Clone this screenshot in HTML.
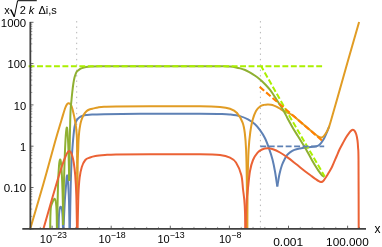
<!DOCTYPE html>
<html><head><meta charset="utf-8"><style>
html,body{margin:0;padding:0;background:#fff;}
body{width:382px;height:247px;overflow:hidden;position:relative;font-family:"Liberation Sans",sans-serif;}
svg{position:absolute;left:0;top:0;}
text{font-family:"Liberation Sans",sans-serif;fill:#000;}
</style></head><body>
<svg width="382" height="247" viewBox="0 0 382 247">
<defs><filter id="nf" x="0" y="0" width="382" height="247" filterUnits="userSpaceOnUse"><feOffset dx="0" dy="0"/></filter></defs>
<rect width="382" height="247" fill="#fff"/>
<g stroke="#b4b4b4" stroke-width="1" stroke-dasharray="1.4 4.0">
<line x1="76.7" y1="21.1" x2="76.7" y2="228"/>
<line x1="260.4" y1="21.1" x2="260.4" y2="228"/>
</g>
<path d="M58.60,229.00 C58.65,227.00 58.77,220.08 58.90,217.00 C59.03,213.92 59.22,212.07 59.40,210.50 C59.58,208.93 59.78,208.22 60.00,207.60 C60.22,206.98 60.45,206.77 60.70,206.80 C60.95,206.83 61.27,207.18 61.50,207.80 C61.73,208.42 61.92,208.97 62.10,210.50 C62.28,212.03 62.45,213.92 62.60,217.00 C62.75,220.08 62.93,227.00 63.00,229.00" fill="none" stroke="#5e81b5" stroke-width="2.0" stroke-linejoin="round" />
<path d="M63.50,229.00 C63.72,224.33 64.38,208.17 64.80,201.00 C65.22,193.83 65.70,189.83 66.00,186.00 C66.30,182.17 66.42,179.78 66.60,178.00 C66.78,176.22 66.92,175.30 67.10,175.30 C67.28,175.30 67.50,176.22 67.70,178.00 C67.90,179.78 68.08,182.17 68.30,186.00 C68.52,189.83 68.80,193.83 69.00,201.00 C69.20,208.17 69.42,224.33 69.50,229.00" fill="none" stroke="#5e81b5" stroke-width="2.0" stroke-linejoin="round" />
<path d="M69.90,229.00 C70.02,222.50 70.35,200.83 70.60,190.00 C70.85,179.17 71.20,169.53 71.40,164.00 C71.60,158.47 71.53,160.63 71.80,156.80 C72.07,152.97 72.58,145.72 73.00,141.00 C73.42,136.28 73.88,131.47 74.30,128.50 C74.72,125.53 75.07,124.60 75.50,123.20 C75.93,121.80 76.42,120.93 76.90,120.10 C77.38,119.27 77.85,118.75 78.40,118.20 C78.95,117.65 79.43,117.22 80.20,116.80 C80.97,116.38 82.02,115.98 83.00,115.70 C83.98,115.42 84.60,115.30 86.10,115.10 C87.60,114.90 89.02,114.65 92.00,114.50 C94.98,114.35 96.00,114.32 104.00,114.20 C112.00,114.08 124.00,113.87 140.00,113.80 C156.00,113.73 186.33,113.77 200.00,113.80 C213.67,113.83 217.00,113.88 222.00,114.00 C227.00,114.12 227.00,114.15 230.00,114.50 C233.00,114.85 237.00,115.28 240.00,116.10 C243.00,116.92 245.50,118.03 248.00,119.40 C250.50,120.77 253.00,122.50 255.00,124.30 C257.00,126.10 258.33,127.88 260.00,130.20 C261.67,132.52 263.50,135.18 265.00,138.20 C266.50,141.22 267.75,144.75 269.00,148.30 C270.25,151.85 271.50,155.63 272.50,159.50 C273.50,163.37 274.20,167.00 275.00,171.50 C275.80,176.00 276.92,184.00 277.30,186.50" fill="none" stroke="#5e81b5" stroke-width="2.0" stroke-linejoin="round" />
<path d="M277.30,186.50 C277.67,184.42 278.72,177.58 279.50,174.00 C280.28,170.42 281.08,167.58 282.00,165.00 C282.92,162.42 284.17,160.13 285.00,158.50 C285.83,156.87 286.17,156.22 287.00,155.20 C287.83,154.18 288.77,153.28 290.00,152.40 C291.23,151.52 292.73,150.57 294.40,149.90 C296.07,149.23 298.40,148.75 300.00,148.40 C301.60,148.05 302.58,148.00 304.00,147.80 C305.42,147.60 307.00,147.37 308.50,147.20 C310.00,147.03 311.67,146.95 313.00,146.80 C314.33,146.65 315.53,146.57 316.50,146.30 C317.47,146.03 318.08,145.70 318.80,145.20 C319.52,144.70 320.18,144.00 320.80,143.30 C321.42,142.60 321.93,141.85 322.50,141.00 C323.07,140.15 323.62,139.32 324.20,138.20 C324.78,137.08 325.43,135.60 326.00,134.30 C326.57,133.00 327.05,131.78 327.60,130.40 C328.15,129.02 329.02,126.73 329.30,126.00" fill="none" stroke="#5e81b5" stroke-width="2.0" stroke-linejoin="round" />
<path d="M30.20,229.00 C32.42,221.42 39.37,198.00 43.50,183.50 C47.63,169.00 52.00,152.58 55.00,142.00 C58.00,131.42 59.83,125.58 61.50,120.00 C63.17,114.42 64.08,111.12 65.00,108.50 C65.92,105.88 66.42,105.18 67.00,104.30 C67.58,103.42 68.03,103.32 68.50,103.20 C68.97,103.08 69.38,103.30 69.80,103.60 C70.22,103.90 70.58,104.18 71.00,105.00 C71.42,105.82 71.88,107.10 72.30,108.50 C72.72,109.90 73.08,111.57 73.50,113.40 C73.92,115.23 74.38,117.27 74.80,119.50 C75.22,121.73 75.68,124.38 76.00,126.80 C76.32,129.22 76.53,131.63 76.70,134.00 C76.87,136.37 76.92,135.83 77.00,141.00 C77.08,146.17 77.15,155.17 77.20,165.00 C77.25,174.83 77.28,194.17 77.30,200.00" fill="none" stroke="#e19c24" stroke-width="2.0" stroke-linejoin="round" />
<path d="M77.30,200.00 C77.35,194.17 77.45,173.33 77.60,165.00 C77.75,156.67 78.05,154.00 78.20,150.00 C78.35,146.00 78.33,144.00 78.50,141.00 C78.67,138.00 78.92,134.65 79.20,132.00 C79.48,129.35 79.85,127.02 80.20,125.10 C80.55,123.18 80.88,121.88 81.30,120.50 C81.72,119.12 82.15,117.98 82.70,116.80 C83.25,115.62 83.90,114.38 84.60,113.40 C85.30,112.42 86.00,111.58 86.90,110.90 C87.80,110.22 88.88,109.72 90.00,109.30 C91.12,108.88 92.27,108.72 93.60,108.40 C94.93,108.08 96.27,107.68 98.00,107.40 C99.73,107.12 101.00,106.87 104.00,106.70 C107.00,106.53 108.33,106.48 116.00,106.40 C123.67,106.32 136.00,106.23 150.00,106.20 C164.00,106.17 188.33,106.07 200.00,106.20 C211.67,106.33 215.00,106.57 220.00,107.00 C225.00,107.43 227.17,107.80 230.00,108.80 C232.83,109.80 234.90,110.70 237.00,113.00 C239.10,115.30 241.30,119.27 242.60,122.60 C243.90,125.93 244.22,128.43 244.80,133.00 C245.38,137.57 245.77,142.17 246.10,150.00 C246.43,157.83 246.63,166.83 246.80,180.00 C246.97,193.17 247.05,220.83 247.10,229.00" fill="none" stroke="#e19c24" stroke-width="2.0" stroke-linejoin="round" />
<path d="M247.30,229.00 C247.37,220.83 247.48,193.17 247.70,180.00 C247.92,166.83 248.17,158.00 248.60,150.00 C249.03,142.00 249.63,137.00 250.30,132.00 C250.97,127.00 251.65,123.50 252.60,120.00 C253.55,116.50 254.77,113.25 256.00,111.00 C257.23,108.75 258.67,107.52 260.00,106.50 C261.33,105.48 262.72,105.25 264.00,104.90 C265.28,104.55 266.53,104.43 267.70,104.40 C268.87,104.37 269.95,104.50 271.00,104.70 C272.05,104.90 272.93,105.20 274.00,105.60 C275.07,106.00 276.27,106.50 277.40,107.10 C278.53,107.70 279.53,108.45 280.80,109.20 C282.07,109.95 283.72,110.93 285.00,111.60 C286.28,112.27 287.28,112.63 288.50,113.20 C289.72,113.77 290.38,113.62 292.30,115.00 C294.22,116.38 297.05,118.98 300.00,121.50 C302.95,124.02 307.67,128.12 310.00,130.10 C312.33,132.08 312.92,132.55 314.00,133.40 C315.08,134.25 315.75,134.67 316.50,135.20 C317.25,135.73 317.78,136.22 318.50,136.60 C319.22,136.98 320.08,137.43 320.80,137.50 C321.52,137.57 322.10,137.50 322.80,137.00 C323.50,136.50 324.20,135.62 325.00,134.50 C325.80,133.38 326.88,131.72 327.60,130.30 C328.32,128.88 328.73,127.63 329.30,126.00 C329.87,124.37 329.63,125.22 331.00,120.50 C332.37,115.78 334.73,107.45 337.50,97.70 C340.27,87.95 344.00,74.62 347.60,62.00 C351.20,49.38 357.18,28.67 359.10,22.00" fill="none" stroke="#e19c24" stroke-width="2.0" stroke-linejoin="round" />
<path d="M50.20,229.00 C50.23,226.83 50.30,219.50 50.40,216.00 C50.50,212.50 50.60,209.92 50.80,208.00 C51.00,206.08 51.23,205.67 51.60,204.50 C51.97,203.33 52.52,201.97 53.00,201.00 C53.48,200.03 54.07,198.78 54.50,198.70 C54.93,198.62 55.30,199.28 55.60,200.50 C55.90,201.72 56.12,203.58 56.30,206.00 C56.48,208.42 56.60,211.17 56.70,215.00 C56.80,218.83 56.87,226.67 56.90,229.00" fill="none" stroke="#8fb032" stroke-width="2.0" stroke-linejoin="round" />
<path d="M57.10,229.00 C57.25,221.67 57.68,195.50 58.00,185.00 C58.32,174.50 58.65,170.25 59.00,166.00 C59.35,161.75 59.73,159.67 60.10,159.50 C60.47,159.33 60.85,161.25 61.20,165.00 C61.55,168.75 61.92,175.33 62.20,182.00 C62.48,188.67 62.75,197.83 62.90,205.00 C63.05,212.17 63.07,221.67 63.10,225.00" fill="none" stroke="#8fb032" stroke-width="2.0" stroke-linejoin="round" />
<path d="M63.10,225.00 C63.15,221.67 63.20,214.17 63.40,205.00 C63.60,195.83 63.95,180.83 64.30,170.00 C64.65,159.17 65.08,147.07 65.50,140.00 C65.92,132.93 66.42,128.27 66.80,127.60 C67.18,126.93 67.50,131.43 67.80,136.00 C68.10,140.57 68.37,147.50 68.60,155.00 C68.83,162.50 69.10,176.67 69.20,181.00" fill="none" stroke="#8fb032" stroke-width="2.0" stroke-linejoin="round" />
<path d="M69.20,181.00 C69.30,174.33 69.58,152.50 69.80,141.00 C70.02,129.50 70.22,118.83 70.50,112.00 C70.78,105.17 71.20,103.33 71.50,100.00 C71.80,96.67 72.00,94.67 72.30,92.00 C72.60,89.33 72.93,86.40 73.30,84.00 C73.67,81.60 74.10,79.30 74.50,77.60 C74.90,75.90 75.28,74.83 75.70,73.80 C76.12,72.77 76.37,72.15 77.00,71.40 C77.63,70.65 78.67,69.85 79.50,69.30 C80.33,68.75 80.92,68.47 82.00,68.10 C83.08,67.73 84.53,67.35 86.00,67.10 C87.47,66.85 88.47,66.73 90.80,66.60 C93.13,66.47 90.13,66.37 100.00,66.30 C109.87,66.23 130.83,66.22 150.00,66.20 C169.17,66.18 202.67,66.18 215.00,66.20 C227.33,66.22 221.50,66.23 224.00,66.30 C226.50,66.37 228.00,66.42 230.00,66.60 C232.00,66.78 234.28,67.10 236.00,67.40 C237.72,67.70 238.88,68.00 240.30,68.40 C241.72,68.80 243.08,69.23 244.50,69.80 C245.92,70.37 247.38,71.05 248.80,71.80 C250.22,72.55 251.58,73.40 253.00,74.30 C254.42,75.20 255.88,76.13 257.30,77.20 C258.72,78.27 260.08,79.40 261.50,80.70 C262.92,82.00 264.40,83.50 265.80,85.00 C267.20,86.50 268.65,88.12 269.90,89.70 C271.15,91.28 272.28,93.00 273.30,94.50 C274.32,96.00 275.17,97.42 276.00,98.70 C276.83,99.98 277.18,100.43 278.30,102.20 C279.42,103.97 281.25,106.80 282.70,109.30 C284.15,111.80 285.70,114.78 287.00,117.20 C288.30,119.62 289.50,121.97 290.50,123.80 C291.50,125.63 291.80,126.20 293.00,128.20 C294.20,130.20 296.12,133.25 297.70,135.80 C299.28,138.35 301.12,141.27 302.50,143.50 C303.88,145.73 304.42,146.42 306.00,149.20 C307.58,151.98 310.17,156.98 312.00,160.20 C313.83,163.42 315.67,166.40 317.00,168.50 C318.33,170.60 319.13,171.63 320.00,172.80 C320.87,173.97 321.48,174.83 322.20,175.50 C322.92,176.17 323.95,176.58 324.30,176.80" fill="none" stroke="#8fb032" stroke-width="2.0" stroke-linejoin="round" />
<path d="M43.40,229.00 C44.50,225.17 47.73,213.83 50.00,206.00 C52.27,198.17 55.00,188.67 57.00,182.00 C59.00,175.33 60.58,170.25 62.00,166.00 C63.42,161.75 64.58,158.75 65.50,156.50 C66.42,154.25 66.87,153.42 67.50,152.50 C68.13,151.58 68.75,151.03 69.30,151.00 C69.85,150.97 70.30,151.47 70.80,152.30 C71.30,153.13 71.80,154.22 72.30,156.00 C72.80,157.78 73.32,159.83 73.80,163.00 C74.28,166.17 74.78,169.67 75.20,175.00 C75.62,180.33 76.00,186.00 76.30,195.00 C76.60,204.00 76.88,223.33 77.00,229.00" fill="none" stroke="#eb6235" stroke-width="2.0" stroke-linejoin="round" />
<path d="M77.60,229.00 C77.73,223.33 78.07,203.50 78.40,195.00 C78.73,186.50 79.03,182.67 79.60,178.00 C80.17,173.33 80.85,170.00 81.80,167.00 C82.75,164.00 83.93,161.58 85.30,160.00 C86.67,158.42 88.32,158.17 90.00,157.50 C91.68,156.83 92.90,156.42 95.40,156.00 C97.90,155.58 101.57,155.27 105.00,155.00 C108.43,154.73 108.50,154.53 116.00,154.40 C123.50,154.27 136.00,154.23 150.00,154.20 C164.00,154.17 188.33,154.07 200.00,154.20 C211.67,154.33 215.00,154.43 220.00,155.00 C225.00,155.57 227.33,156.35 230.00,157.60 C232.67,158.85 234.12,159.60 236.00,162.50 C237.88,165.40 240.13,170.58 241.30,175.00 C242.47,179.42 242.50,184.83 243.00,189.00 C243.50,193.17 243.97,196.17 244.30,200.00 C244.63,203.83 244.83,207.17 245.00,212.00 C245.17,216.83 245.25,226.17 245.30,229.00" fill="none" stroke="#eb6235" stroke-width="2.0" stroke-linejoin="round" />
<path d="M245.70,229.00 C245.75,226.17 245.83,216.83 246.00,212.00 C246.17,207.17 246.37,204.00 246.70,200.00 C247.03,196.00 247.45,192.83 248.00,188.00 C248.55,183.17 249.17,175.67 250.00,171.00 C250.83,166.33 251.73,163.07 253.00,160.00 C254.27,156.93 256.10,154.35 257.60,152.60 C259.10,150.85 260.32,150.22 262.00,149.50 C263.68,148.78 265.87,148.35 267.70,148.30 C269.53,148.25 270.95,148.50 273.00,149.20 C275.05,149.90 277.53,151.10 280.00,152.50 C282.47,153.90 285.13,155.68 287.80,157.60 C290.47,159.52 292.97,161.60 296.00,164.00 C299.03,166.40 303.33,169.93 306.00,172.00 C308.67,174.07 310.33,175.18 312.00,176.40 C313.67,177.62 314.87,178.52 316.00,179.30 C317.13,180.08 317.98,180.67 318.80,181.10 C319.62,181.53 320.27,181.83 320.90,181.90 C321.53,181.97 322.08,181.78 322.60,181.50 C323.12,181.22 323.43,180.92 324.00,180.20 C324.57,179.48 325.32,178.28 326.00,177.20 C326.68,176.12 327.38,174.90 328.10,173.70 C328.82,172.50 329.58,171.28 330.30,170.00 C331.02,168.72 331.37,168.25 332.40,166.00 C333.43,163.75 335.32,159.25 336.50,156.50 C337.68,153.75 338.45,151.70 339.50,149.50 C340.55,147.30 341.72,145.30 342.80,143.30 C343.88,141.30 344.93,139.25 346.00,137.50 C347.07,135.75 348.33,133.95 349.20,132.80 C350.07,131.65 350.58,131.10 351.20,130.60 C351.82,130.10 352.33,129.77 352.90,129.80 C353.47,129.83 354.03,130.02 354.60,130.80 C355.17,131.58 355.82,132.88 356.30,134.50 C356.78,136.12 357.20,138.25 357.50,140.50 C357.80,142.75 357.93,144.75 358.10,148.00 C358.27,151.25 358.40,146.50 358.50,160.00 C358.60,173.50 358.67,217.50 358.70,229.00" fill="none" stroke="#eb6235" stroke-width="2.0" stroke-linejoin="round" />
<path d="M28.60,66.20 L322.10,66.20" fill="none" stroke="#aaf000" stroke-width="2.0" stroke-linejoin="round" stroke-dasharray="5.9 2.56" />
<path d="M261.10,66.10 L288.00,113.60 L324.70,176.40" fill="none" stroke="#aaf000" stroke-width="2.0" stroke-linejoin="round" stroke-dasharray="5.7 2.5" stroke-dashoffset="0.9"/>
<path d="M259.70,86.90 L323.00,141.30" fill="none" stroke="#ff8000" stroke-width="2.1" stroke-linejoin="round" stroke-dasharray="5.9 2.56" />
<path d="M260.30,146.40 L324.20,146.40" fill="none" stroke="#5e81b5" stroke-width="1.6" stroke-linejoin="round" stroke-dasharray="5.9 2.56" />
<line x1="30.35" y1="21.9" x2="30.35" y2="229.6" stroke="#404040" stroke-width="1.8"/>
<line x1="22.3" y1="228.8" x2="366" y2="228.8" stroke="#404040" stroke-width="1.8"/>
<line x1="30.5" y1="228.80" x2="33.5" y2="228.80" stroke="#404040" stroke-width="0.8"/>
<line x1="30.5" y1="216.37" x2="32.3" y2="216.37" stroke="#404040" stroke-width="0.5"/>
<line x1="30.5" y1="209.09" x2="32.3" y2="209.09" stroke="#404040" stroke-width="0.5"/>
<line x1="30.5" y1="203.93" x2="32.3" y2="203.93" stroke="#404040" stroke-width="0.5"/>
<line x1="30.5" y1="199.93" x2="32.3" y2="199.93" stroke="#404040" stroke-width="0.5"/>
<line x1="30.5" y1="196.66" x2="32.3" y2="196.66" stroke="#404040" stroke-width="0.5"/>
<line x1="30.5" y1="193.90" x2="32.3" y2="193.90" stroke="#404040" stroke-width="0.5"/>
<line x1="30.5" y1="191.50" x2="32.3" y2="191.50" stroke="#404040" stroke-width="0.5"/>
<line x1="30.5" y1="189.39" x2="32.3" y2="189.39" stroke="#404040" stroke-width="0.5"/>
<line x1="30.5" y1="187.50" x2="33.5" y2="187.50" stroke="#404040" stroke-width="0.8"/>
<line x1="30.5" y1="175.07" x2="32.3" y2="175.07" stroke="#404040" stroke-width="0.5"/>
<line x1="30.5" y1="167.79" x2="32.3" y2="167.79" stroke="#404040" stroke-width="0.5"/>
<line x1="30.5" y1="162.63" x2="32.3" y2="162.63" stroke="#404040" stroke-width="0.5"/>
<line x1="30.5" y1="158.63" x2="32.3" y2="158.63" stroke="#404040" stroke-width="0.5"/>
<line x1="30.5" y1="155.36" x2="32.3" y2="155.36" stroke="#404040" stroke-width="0.5"/>
<line x1="30.5" y1="152.60" x2="32.3" y2="152.60" stroke="#404040" stroke-width="0.5"/>
<line x1="30.5" y1="150.20" x2="32.3" y2="150.20" stroke="#404040" stroke-width="0.5"/>
<line x1="30.5" y1="148.09" x2="32.3" y2="148.09" stroke="#404040" stroke-width="0.5"/>
<line x1="30.5" y1="146.20" x2="33.5" y2="146.20" stroke="#404040" stroke-width="0.8"/>
<line x1="30.5" y1="133.77" x2="32.3" y2="133.77" stroke="#404040" stroke-width="0.5"/>
<line x1="30.5" y1="126.49" x2="32.3" y2="126.49" stroke="#404040" stroke-width="0.5"/>
<line x1="30.5" y1="121.33" x2="32.3" y2="121.33" stroke="#404040" stroke-width="0.5"/>
<line x1="30.5" y1="117.33" x2="32.3" y2="117.33" stroke="#404040" stroke-width="0.5"/>
<line x1="30.5" y1="114.06" x2="32.3" y2="114.06" stroke="#404040" stroke-width="0.5"/>
<line x1="30.5" y1="111.30" x2="32.3" y2="111.30" stroke="#404040" stroke-width="0.5"/>
<line x1="30.5" y1="108.90" x2="32.3" y2="108.90" stroke="#404040" stroke-width="0.5"/>
<line x1="30.5" y1="106.79" x2="32.3" y2="106.79" stroke="#404040" stroke-width="0.5"/>
<line x1="30.5" y1="104.90" x2="33.5" y2="104.90" stroke="#404040" stroke-width="0.8"/>
<line x1="30.5" y1="92.47" x2="32.3" y2="92.47" stroke="#404040" stroke-width="0.5"/>
<line x1="30.5" y1="85.19" x2="32.3" y2="85.19" stroke="#404040" stroke-width="0.5"/>
<line x1="30.5" y1="80.03" x2="32.3" y2="80.03" stroke="#404040" stroke-width="0.5"/>
<line x1="30.5" y1="76.03" x2="32.3" y2="76.03" stroke="#404040" stroke-width="0.5"/>
<line x1="30.5" y1="72.76" x2="32.3" y2="72.76" stroke="#404040" stroke-width="0.5"/>
<line x1="30.5" y1="70.00" x2="32.3" y2="70.00" stroke="#404040" stroke-width="0.5"/>
<line x1="30.5" y1="67.60" x2="32.3" y2="67.60" stroke="#404040" stroke-width="0.5"/>
<line x1="30.5" y1="65.49" x2="32.3" y2="65.49" stroke="#404040" stroke-width="0.5"/>
<line x1="30.5" y1="63.60" x2="33.5" y2="63.60" stroke="#404040" stroke-width="0.8"/>
<line x1="30.5" y1="51.17" x2="32.3" y2="51.17" stroke="#404040" stroke-width="0.5"/>
<line x1="30.5" y1="43.89" x2="32.3" y2="43.89" stroke="#404040" stroke-width="0.5"/>
<line x1="30.5" y1="38.73" x2="32.3" y2="38.73" stroke="#404040" stroke-width="0.5"/>
<line x1="30.5" y1="34.73" x2="32.3" y2="34.73" stroke="#404040" stroke-width="0.5"/>
<line x1="30.5" y1="31.46" x2="32.3" y2="31.46" stroke="#404040" stroke-width="0.5"/>
<line x1="30.5" y1="28.70" x2="32.3" y2="28.70" stroke="#404040" stroke-width="0.5"/>
<line x1="30.5" y1="26.30" x2="32.3" y2="26.30" stroke="#404040" stroke-width="0.5"/>
<line x1="30.5" y1="24.19" x2="32.3" y2="24.19" stroke="#404040" stroke-width="0.5"/>
<line x1="30.5" y1="22.30" x2="33.5" y2="22.30" stroke="#404040" stroke-width="0.8"/>
<line x1="40.28" y1="228.7" x2="40.28" y2="226.90" stroke="#404040" stroke-width="0.5"/>
<line x1="52.10" y1="228.7" x2="52.10" y2="225.70" stroke="#404040" stroke-width="0.8"/>
<line x1="63.92" y1="228.7" x2="63.92" y2="226.90" stroke="#404040" stroke-width="0.5"/>
<line x1="75.74" y1="228.7" x2="75.74" y2="226.90" stroke="#404040" stroke-width="0.5"/>
<line x1="87.56" y1="228.7" x2="87.56" y2="226.90" stroke="#404040" stroke-width="0.5"/>
<line x1="99.38" y1="228.7" x2="99.38" y2="226.90" stroke="#404040" stroke-width="0.5"/>
<line x1="111.20" y1="228.7" x2="111.20" y2="225.70" stroke="#404040" stroke-width="0.8"/>
<line x1="123.02" y1="228.7" x2="123.02" y2="226.90" stroke="#404040" stroke-width="0.5"/>
<line x1="134.84" y1="228.7" x2="134.84" y2="226.90" stroke="#404040" stroke-width="0.5"/>
<line x1="146.66" y1="228.7" x2="146.66" y2="226.90" stroke="#404040" stroke-width="0.5"/>
<line x1="158.48" y1="228.7" x2="158.48" y2="226.90" stroke="#404040" stroke-width="0.5"/>
<line x1="170.30" y1="228.7" x2="170.30" y2="225.70" stroke="#404040" stroke-width="0.8"/>
<line x1="182.12" y1="228.7" x2="182.12" y2="226.90" stroke="#404040" stroke-width="0.5"/>
<line x1="193.94" y1="228.7" x2="193.94" y2="226.90" stroke="#404040" stroke-width="0.5"/>
<line x1="205.76" y1="228.7" x2="205.76" y2="226.90" stroke="#404040" stroke-width="0.5"/>
<line x1="217.58" y1="228.7" x2="217.58" y2="226.90" stroke="#404040" stroke-width="0.5"/>
<line x1="229.40" y1="228.7" x2="229.40" y2="225.70" stroke="#404040" stroke-width="0.8"/>
<line x1="241.22" y1="228.7" x2="241.22" y2="226.90" stroke="#404040" stroke-width="0.5"/>
<line x1="253.04" y1="228.7" x2="253.04" y2="226.90" stroke="#404040" stroke-width="0.5"/>
<line x1="264.86" y1="228.7" x2="264.86" y2="226.90" stroke="#404040" stroke-width="0.5"/>
<line x1="276.68" y1="228.7" x2="276.68" y2="226.90" stroke="#404040" stroke-width="0.5"/>
<line x1="288.50" y1="228.7" x2="288.50" y2="225.70" stroke="#404040" stroke-width="0.8"/>
<line x1="300.32" y1="228.7" x2="300.32" y2="226.90" stroke="#404040" stroke-width="0.5"/>
<line x1="312.14" y1="228.7" x2="312.14" y2="226.90" stroke="#404040" stroke-width="0.5"/>
<line x1="323.96" y1="228.7" x2="323.96" y2="226.90" stroke="#404040" stroke-width="0.5"/>
<line x1="335.78" y1="228.7" x2="335.78" y2="226.90" stroke="#404040" stroke-width="0.5"/>
<line x1="347.60" y1="228.7" x2="347.60" y2="225.70" stroke="#404040" stroke-width="0.8"/>
<line x1="359.42" y1="228.7" x2="359.42" y2="226.90" stroke="#404040" stroke-width="0.5"/>
<g font-size="11" filter="url(#nf)">
<text x="26.2" y="27.3" text-anchor="end" textLength="25.4" lengthAdjust="spacingAndGlyphs">1000</text>
<text x="26.2" y="68.3" text-anchor="end" textLength="18.6" lengthAdjust="spacingAndGlyphs">100</text>
<text x="26.2" y="109.7" text-anchor="end" textLength="12.4" lengthAdjust="spacingAndGlyphs">10</text>
<text x="26.2" y="151" text-anchor="end">1</text>
<text x="26.2" y="192" text-anchor="end" textLength="22.5" lengthAdjust="spacingAndGlyphs">0.10</text>
<text x="39.8" y="242.6">10<tspan dy="-4.2" font-size="8.8">−23</tspan></text>
<text x="98.6" y="242.6">10<tspan dy="-4.2" font-size="8.8">−18</tspan></text>
<text x="157.4" y="242.6">10<tspan dy="-4.2" font-size="8.8">−13</tspan></text>
<text x="219" y="242.6">10<tspan dy="-4.2" font-size="8.8">−8</tspan></text>
<text x="288.2" y="245.7" text-anchor="middle" textLength="30" lengthAdjust="spacingAndGlyphs">0.001</text>
<text x="347.4" y="245.7" text-anchor="middle" textLength="42.6" lengthAdjust="spacingAndGlyphs">100.000</text>
<text x="374.6" y="233.2" font-size="12">x</text>
<text x="4.3" y="13.7">x</text>
<text x="19.8" y="13.7">2</text>
<text x="28.7" y="13.7" font-style="italic">k</text>
<text x="38.4" y="13.7">Δi,s</text>
</g>
<path d="M9.6,10.3 L10.8,9.6" fill="none" stroke="#000" stroke-width="0.7"/>
<path d="M10.8,9.6 L14.3,16.7" fill="none" stroke="#000" stroke-width="1.4"/>
<path d="M14.3,16.9 L17.6,0.7 L36.8,0.7" fill="none" stroke="#000" stroke-width="1"/>
</svg>
</body></html>
